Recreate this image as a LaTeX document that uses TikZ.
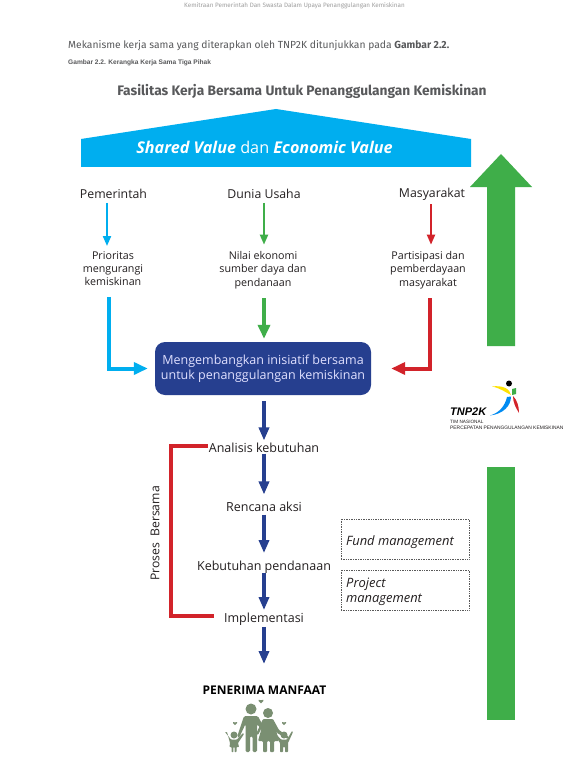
\documentclass[tikz,border=0pt]{standalone}
\usepackage{fontspec}
\setmainfont{Open Sans}
\newfontfamily\headfont{Fira Sans}
\newfontfamily\capfont{Liberation Sans}
\usetikzlibrary{arrows.meta,calc}
\definecolor{cyanb}{HTML}{00AEEF}
\definecolor{greenb}{HTML}{3FAE49}
\definecolor{redb}{HTML}{D2232A}
\definecolor{navyb}{HTML}{263F8F}
\definecolor{greyt}{HTML}{58595B}
\definecolor{inkt}{HTML}{231F20}
\definecolor{famc}{HTML}{7A8F72}
\tikzset{
 lbl/.style={inner sep=0pt,text=inkt,align=center,font=\fontsize{12.3}{14}\selectfont},
 sub/.style={inner sep=0pt,text=inkt,align=center,font=\fontsize{10.7}{13.3}\selectfont},
 flow/.style={inner sep=0pt,text=inkt,font=\fontsize{12.5}{14}\selectfont},
 thin arr/.style={line width=2pt,-{Triangle[width=8pt,length=10pt]}},
 thick arr/.style={line width=4pt,-{Triangle[width=12pt,length=14pt]}},
 flow arr/.style={line width=4pt,draw=navyb,-{Triangle[width=10pt,length=13pt]}},
 dotbox/.style={draw=black!65,densely dotted,line width=.7pt,minimum width=128pt,inner sep=0pt},
 ital/.style={inner sep=0pt,text=inkt,font=\fontsize{12.9}{15}\itshape\selectfont,align=left}
}
\begin{document}
\begin{tikzpicture}[x=1pt,y=-1pt]
\useasboundingbox[fill=white] (0,0) rectangle (588,762);
% page text
\node[inner sep=0pt,text=gray!75,font=\headfont\fontsize{6.3}{7}\selectfont] (hdr) at (294.5,6) {Kemitraan Pemerintah Dan Swasta Dalam Upaya Penanggulangan Kemiskinan};
\node[inner sep=0pt,anchor=west,text=greyt,font=\headfont\fontsize{10.3}{12}\selectfont] (intro) at (68,45.5) {Mekanisme kerja sama yang diterapkan oleh TNP2K ditunjukkan pada \textbf{Gambar 2.2.}};
\node[inner sep=0pt,anchor=west,text=greyt,font=\capfont\bfseries\fontsize{6.6}{8}\selectfont] (cap) at (68,63) {Gambar 2.2. Kerangka Kerja Sama Tiga Pihak};
\node[inner sep=0pt,text=greyt,font=\headfont\bfseries\fontsize{13.75}{15}\selectfont] (title) at (302,91) {Fasilitas Kerja Bersama Untuk Penanggulangan Kemiskinan};
% house
\fill[cyanb] (81,139) -- (276,109) -- (471,139) -- (471,167) -- (81,167) -- cycle;
\node[inner sep=0pt,text=white,font=\fontsize{16.2}{18}\selectfont] (val) at (264.5,147) {\textbf{\textit{Shared Value}} dan \textbf{\textit{Economic Value}}};
% big green arrows
\fill[greenb] (501,154) -- (532,187) -- (515,187) -- (515,346) -- (487,346) -- (487,187) -- (470,187) -- cycle;
\fill[greenb] (487,467) rectangle (515,720);
% columns
\node[lbl] (pem) at (113.5,194) {Pemerintah};
\node[lbl] (dun) at (264,194) {Dunia Usaha};
\node[lbl] (mas) at (432,194) {Masyarakat};
\node[sub] (pri) at (113,268.5) {Prioritas\\mengurangi\\kemiskinan};
\node[sub] (nil) at (263,270) {Nilai ekonomi\\sumber daya dan\\pendanaan};
\node[sub] (par) at (428,270) {Partisipasi dan\\pemberdayaan\\masyarakat};
\node[fill=navyb,rounded corners=10pt,minimum width=216pt,minimum height=53pt,inner sep=0pt,align=center,text=blue!12!white,font=\fontsize{12.5}{15.5}\selectfont] (box) at (263,368.5) {Mengembangkan inisiatif bersama\\untuk penanggulangan kemiskinan};
% thin arrows
\draw[thin arr,draw=cyanb,cyanb] ([xshift=-6.5pt,yshift=-4pt]pem.south) -- ([xshift=-6pt,yshift=5pt]pri.north);
\draw[thin arr,draw=greenb,greenb] ([yshift=-4pt]dun.south) -- ([xshift=1pt,yshift=6.5pt]nil.north);
\draw[thin arr,draw=redb,redb] ([xshift=-1pt,yshift=-4pt]mas.south) -- ([xshift=3pt,yshift=6.5pt]par.north);
% thick arrows
\draw[thick arr,draw=cyanb,cyanb,shorten >=7pt] ([xshift=-4.5pt,yshift=-11pt]pri.south) |- (box.west);
\draw[thick arr,draw=greenb,greenb,shorten >=3pt] ([xshift=1pt,yshift=-9.5pt]nil.south) -- ([xshift=1pt]box.north -| nil.south);
\draw[thick arr,draw=redb,redb,shorten >=20pt] ([xshift=2pt,yshift=-9.5pt]par.south) |- (box.east);
% flow
\node[flow] (ana) at (264,447.5) {Analisis kebutuhan};
\node[flow] (ren) at (264,506.5) {Rencana aksi};
\node[flow] (keb) at (264,567) {Kebutuhan pendanaan};
\node[flow] (imp) at (264,619) {Implementasi};
\coordinate (ben) at (264,664);
\draw[flow arr,navyb] (box.south -| ana) ++(0,6) -- ([yshift=2pt]ana.north);
\draw[flow arr,navyb] ([yshift=-1pt]ana.south) -- ([yshift=7pt]ren.north);
\draw[flow arr,navyb] ([yshift=-3pt]ren.south) -- ([yshift=7.5pt]keb.north);
\draw[flow arr,navyb] ([yshift=.5pt]keb.south) -- ([yshift=2.5pt]imp.north);
\draw[flow arr,navyb] ([yshift=-1.5pt]imp.south) -- (ben);
% bracket
\draw[redb,line width=4pt] ([xshift=-1pt,yshift=2pt]ana.west) -| (171,616) -- ([xshift=-10pt,yshift=3pt]imp.west);
\node[inner sep=0pt,rotate=90,text=inkt,font=\fontsize{12.2}{13}\selectfont] (pro) at (155,533.5) {Proses\ \ Bersama};
% dotted boxes
\node[dotbox,minimum height=40pt] (fund) at (405,539) {};
\node[dotbox,minimum height=40pt] (proj) at (405,590) {};
\node[ital,anchor=west] (fundt) at (346,542) {Fund management};
\node[ital,anchor=west] (projt) at (346,592) {Project\\management};
% beneficiaries
\node[inner sep=0pt,text=black,font=\bfseries\fontsize{12}{13}\selectfont] (pen) at (264.5,690.5) {PENERIMA MANFAAT};
% family icon
\begin{scope}[famc]
\fill (251,709) circle (5.5);
\fill (268,713) circle (5);
\fill (234,735) circle (3.5);
\fill (284,735) circle (3.5);
% man
\fill[rounded corners=1.5pt] (244,716) -- (258,716) -- (261,722) -- (267,732) -- (265,734) -- (257,724) -- (257,752) -- (252.5,752) -- (252.5,736) -- (250,736) -- (250,752) -- (245.5,752) -- (245.5,724) -- (239,738) -- (237,737) -- cycle;
% woman
\fill[rounded corners=1pt] (263,719) -- (273,719) -- (279,730) -- (289,737) -- (288,739) -- (277,733) -- (275,727) -- (279,741) -- (274,741) -- (274,752) -- (270,752) -- (270,741) -- (267,741) -- (267,752) -- (263,752) -- (263,741) -- (258,741) -- (262,727) -- (258,735) -- (256,734) -- cycle;
% kids
\fill[rounded corners=.6pt] (231,739.5) -- (237,739.5) -- (243,733) -- (244,734) -- (238,743) -- (239,747) -- (236.5,747) -- (236.5,752) -- (234.6,752) -- (234.6,747) -- (233.4,747) -- (233.4,752) -- (231.5,752) -- (231.5,747) -- (229.5,747) -- (230,743) -- (227,732) -- (225,732) -- cycle;
\fill[rounded corners=.6pt] (281,739.5) -- (287,739.5) -- (292,731) -- (293,732) -- (288,743) -- (288,752) -- (285,752) -- (285,747) -- (283,747) -- (283,752) -- (280,752) -- (280,743) -- (275,735) -- (276,734) -- cycle;
% hearts
\foreach \hx/\hy/\hs in {261/701/1.2,235/723/1,284/723/1}{
 \fill (\hx,\hy+2*\hs) -- (\hx-2*\hs,\hy) -- (\hx-2*\hs,\hy-\hs) -- (\hx,\hy-\hs*.6) -- (\hx+2*\hs,\hy-\hs) -- (\hx+2*\hs,\hy) -- cycle;
}
\end{scope}
% logo
\fill[black] (509,383.5) circle (3);
\fill[yellow!85!orange] (492,386.5) .. controls (503,385) and (510,389) .. (511,395) .. controls (505,392) and (500,388) .. (492,386.5) -- cycle;
\fill[cyanb!80!blue] (490,415.5) .. controls (499,413) and (505,406) .. (507,397) -- (511,396.5) .. controls (511,406) and (503,414) .. (490,415.5) -- cycle;
\fill[redb] (513,396) .. controls (517,400) and (519,406) .. (519,413) .. controls (516,408) and (513,403) .. (513,396) -- cycle;
\fill[greenb] (512,389) -- (516,388) -- (516,394) -- (512,395) -- cycle;
\node[inner sep=0pt,anchor=west,text=black,font=\capfont\bfseries\itshape\fontsize{11}{12}\selectfont] (tnp) at (450,412) {TNP2K};
\node[inner sep=0pt,anchor=west,text=inkt,font=\capfont\fontsize{4.7}{5}\selectfont] (tim) at (450,421.5) {TIM NASIONAL};
\node[inner sep=0pt,anchor=west,text=inkt,font=\capfont\fontsize{4.9}{5}\selectfont] (per) at (450,428) {PERCEPATAN PENANGGULANGAN KEMISKINAN};
\end{tikzpicture}
\end{document}
